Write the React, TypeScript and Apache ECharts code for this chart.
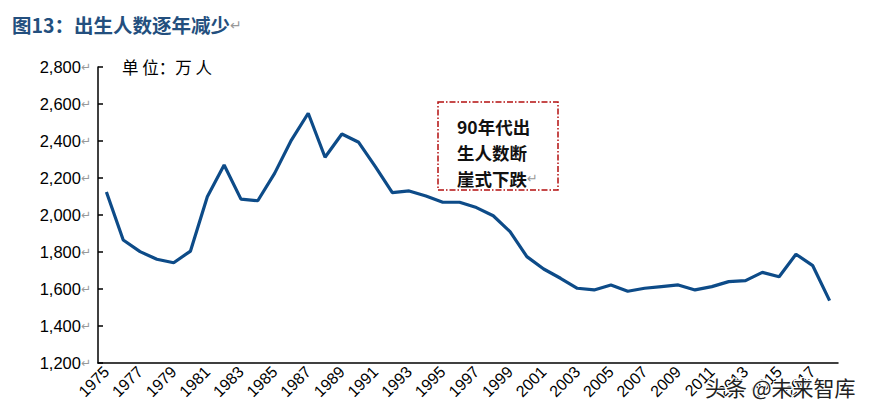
import React, { useEffect, useRef } from "react";
import * as echarts from "echarts";

const years: string[] = [
  "1975","1976","1977","1978","1979","1980","1981","1982","1983","1984",
  "1985","1986","1987","1988","1989","1990","1991","1992","1993","1994",
  "1995","1996","1997","1998","1999","2000","2001","2002","2003","2004",
  "2005","2006","2007","2008","2009","2010","2011","2012","2013","2014",
  "2015","2016","2017","2018",
];

const births: number[] = [
  2124, 1865, 1802, 1761, 1742, 1805, 2099, 2270, 2086, 2077,
  2225, 2405, 2550, 2312, 2438, 2393, 2260, 2121, 2130, 2103,
  2069, 2069, 2040, 1996, 1910, 1775, 1708, 1658, 1604, 1595,
  1622, 1588, 1604, 1613, 1622, 1595, 1613, 1640, 1645, 1690,
  1666, 1788, 1726, 1537,
];

const yMin = 1200;
const yMax = 2800;
const yStep = 200;

const titleText = "图13：出生人数逐年减少";
const unitText = "单 位：万 人";
const noteLines: string[] = ["90年代出", "生人数断", "崖式下跌"];
const watermark = "头条 @未来智库";

export default function App() {
  const ref = useRef<HTMLDivElement>(null);

  useEffect(() => {
    if (!ref.current) return;
    const chart = echarts.init(ref.current, undefined, { renderer: "svg" });
    const fmt = (v: number) => v.toLocaleString("en-US");
    const noteRich = {
      n: { fontSize: 17.5, fontWeight: "bold", fill: "#111", lineHeight: 24, fontFamily: "Noto Sans CJK SC, sans-serif" },
      r: { fontSize: 13, fill: "#999", lineHeight: 24, fontFamily: "DejaVu Sans, sans-serif" },
    };
    const noteTexts = noteLines.map((line, i) => ({
      type: "text",
      x: 457,
      y: 126 + i * 26,
      style: {
        text: i === noteLines.length - 1 ? `{n|${line}}{r|↵}` : `{n|${line}}`,
        rich: noteRich,
        verticalAlign: "middle",
      },
      z: 11,
    }));
    chart.setOption({
      animation: false,
      backgroundColor: "#ffffff",
      grid: { left: 98, right: 38, top: 67, bottom: 53, containLabel: false },
      xAxis: {
        type: "category",
        data: years,
        boundaryGap: true,
        axisLine: { lineStyle: { color: "#000", width: 1.5 } },
        axisTick: { show: false },
        axisLabel: {
          interval: 1,
          rotate: 45,
          margin: 6,
          fontSize: 16,
          color: "#000",
          fontFamily: "Liberation Sans, Arial, sans-serif",
        },
      },
      yAxis: {
        type: "value",
        min: yMin,
        max: yMax,
        interval: yStep,
        splitLine: { show: false },
        axisLine: { show: true, lineStyle: { color: "#000", width: 1.5 } },
        axisTick: { show: true, inside: true, length: 5, lineStyle: { color: "#000", width: 1.5 } },
        axisLabel: {
          margin: 7,
          formatter: (v: number) => `{a|${fmt(v)}}{b|↵}`,
          rich: {
            a: { fontSize: 16.5, color: "#000", fontFamily: "Liberation Sans, Arial, sans-serif" },
            b: { fontSize: 12, color: "#999", fontFamily: "DejaVu Sans, sans-serif" },
          },
        },
      },
      series: [
        {
          type: "line",
          data: births,
          symbol: "none",
          lineStyle: { color: "#0d4b88", width: 3.2 },
          z: 3,
        },
      ],
      graphic: [
        {
          type: "text",
          left: 12,
          top: 15,
          style: {
            text: `{t|${titleText}}{r|↵}`,
            rich: {
              t: { fontSize: 19.5, fontWeight: "bold", fill: "#234f7e", fontFamily: "Noto Sans CJK SC, sans-serif" },
              r: { fontSize: 14, fill: "#999", fontFamily: "DejaVu Sans, sans-serif" },
            },
          },
        },
        {
          type: "text",
          left: 122,
          top: 59,
          style: {
            text: unitText,
            fontSize: 16.5,
            fill: "#000",
            fontFamily: "Noto Sans CJK SC, sans-serif",
          },
        },
        {
          type: "rect",
          shape: { x: 438, y: 102, width: 120, height: 88 },
          style: {
            fill: "#fff",
            stroke: "#b40f0f",
            lineWidth: 1.5,
            lineDash: [6, 2, 1.5, 2],
          },
          z: 10,
        },
        ...noteTexts,
        {
          type: "text",
          x: 705,
          y: 376,
          style: {
            text: watermark,
            fontSize: 21,
            fill: "#222",
            stroke: "#fff",
            lineWidth: 2,
            fontFamily: "Noto Sans CJK SC, sans-serif",
          },
          z: 20,
        },
      ],
    });
    return () => chart.dispose();
  }, []);

  return <div ref={ref} style={{ width: 876, height: 416, position: "absolute", left: 0, top: 0 }} />;
}
